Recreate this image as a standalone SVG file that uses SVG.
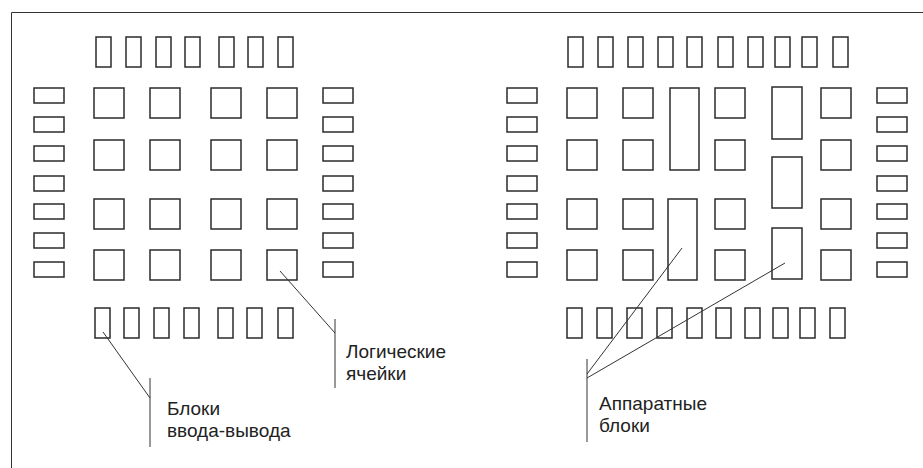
<svg xmlns="http://www.w3.org/2000/svg" width="923" height="468" viewBox="0 0 923 468">
  <style>
    .blk { fill: none; stroke: #2b2b2b; stroke-width: 1.5; }
    .lead { fill: none; stroke: #333; stroke-width: 1; }
    .lbl { font-family: "Liberation Sans", Arial, sans-serif; font-size: 19px; fill: #222; }
  </style>
  <defs>
    <rect id="padV" width="15" height="30" class="blk"/>
    <rect id="padH" width="30" height="15" class="blk"/>
    <rect id="cell" width="30" height="30" class="blk"/>
  </defs>

  <!-- frame edges -->
  <g id="frame">
    <path d="M11.5 468 V12.5 H923" class="lead" stroke-width="1.3"/>
  </g>

  <!-- left chip: I/O blocks -->
  <g id="left-io-top">
    <use href="#padV" x="96" y="37"/><use href="#padV" x="126" y="37"/><use href="#padV" x="156" y="37"/>
    <use href="#padV" x="185" y="37"/><use href="#padV" x="219" y="37"/><use href="#padV" x="248" y="37"/>
    <use href="#padV" x="278" y="37"/>
  </g>
  <g id="left-io-bottom">
    <use href="#padV" x="95" y="308"/><use href="#padV" x="124" y="308"/><use href="#padV" x="154" y="308"/>
    <use href="#padV" x="184" y="308"/><use href="#padV" x="218" y="308"/><use href="#padV" x="247" y="308"/>
    <use href="#padV" x="278" y="308"/>
  </g>
  <g id="left-io-west">
    <use href="#padH" x="34" y="88"/><use href="#padH" x="34" y="117"/><use href="#padH" x="34" y="146"/>
    <use href="#padH" x="34" y="176"/><use href="#padH" x="34" y="204"/><use href="#padH" x="34" y="233"/>
    <use href="#padH" x="34" y="262"/>
  </g>
  <g id="left-io-east">
    <use href="#padH" x="323" y="88"/><use href="#padH" x="323" y="117"/><use href="#padH" x="323" y="146"/>
    <use href="#padH" x="323" y="176"/><use href="#padH" x="323" y="204"/><use href="#padH" x="323" y="233"/>
    <use href="#padH" x="323" y="262"/>
  </g>

  <!-- left chip: logic cells -->
  <g id="left-cells">
    <use href="#cell" x="94" y="88"/><use href="#cell" x="150" y="88"/><use href="#cell" x="211" y="88"/><use href="#cell" x="267" y="88"/>
    <use href="#cell" x="94" y="140"/><use href="#cell" x="150" y="140"/><use href="#cell" x="211" y="140"/><use href="#cell" x="267" y="140"/>
    <use href="#cell" x="94" y="199"/><use href="#cell" x="150" y="199"/><use href="#cell" x="211" y="199"/><use href="#cell" x="267" y="199"/>
    <use href="#cell" x="94" y="250"/><use href="#cell" x="150" y="250"/><use href="#cell" x="211" y="250"/><use href="#cell" x="267" y="250"/>
  </g>

  <!-- right chip: I/O blocks -->
  <g id="right-io-top">
    <use href="#padV" x="568" y="37"/><use href="#padV" x="598" y="37"/><use href="#padV" x="628" y="37"/>
    <use href="#padV" x="658" y="37"/><use href="#padV" x="687" y="37"/><use href="#padV" x="718" y="37"/>
    <use href="#padV" x="748" y="37"/><use href="#padV" x="775" y="37"/><use href="#padV" x="802" y="37"/>
    <use href="#padV" x="833" y="37"/>
  </g>
  <g id="right-io-bottom">
    <use href="#padV" x="567" y="308"/><use href="#padV" x="597" y="308"/><use href="#padV" x="627" y="308"/>
    <use href="#padV" x="657" y="308"/><use href="#padV" x="687" y="308"/><use href="#padV" x="716" y="308"/>
    <use href="#padV" x="745" y="308"/><use href="#padV" x="773" y="308"/><use href="#padV" x="800" y="308"/>
    <use href="#padV" x="830" y="308"/>
  </g>
  <g id="right-io-west">
    <use href="#padH" x="507" y="88"/><use href="#padH" x="507" y="117"/><use href="#padH" x="507" y="146"/>
    <use href="#padH" x="507" y="176"/><use href="#padH" x="507" y="204"/><use href="#padH" x="507" y="233"/>
    <use href="#padH" x="507" y="262"/>
  </g>
  <g id="right-io-east">
    <use href="#padH" x="877" y="88"/><use href="#padH" x="877" y="117"/><use href="#padH" x="877" y="146"/>
    <use href="#padH" x="877" y="176"/><use href="#padH" x="877" y="204"/><use href="#padH" x="877" y="233"/>
    <use href="#padH" x="877" y="262"/>
  </g>

  <!-- right chip: logic cells -->
  <g id="right-cells">
    <use href="#cell" x="567" y="88"/><use href="#cell" x="623" y="88"/><use href="#cell" x="715" y="88"/><use href="#cell" x="821" y="88"/>
    <use href="#cell" x="567" y="140"/><use href="#cell" x="623" y="140"/><use href="#cell" x="715" y="140"/><use href="#cell" x="821" y="140"/>
    <use href="#cell" x="567" y="199"/><use href="#cell" x="623" y="199"/><use href="#cell" x="715" y="199"/><use href="#cell" x="821" y="199"/>
    <use href="#cell" x="567" y="250"/><use href="#cell" x="623" y="250"/><use href="#cell" x="715" y="250"/><use href="#cell" x="821" y="250"/>
  </g>

  <!-- right chip: hard blocks -->
  <g id="hard-blocks">
    <rect id="hb1" x="670" y="88" width="29" height="82" class="blk"/>
    <rect id="hb2" x="668" y="199" width="29" height="81" class="blk"/>
    <rect id="hb3" x="772" y="87" width="30" height="52" class="blk"/>
    <rect id="hb4" x="772" y="157" width="30" height="51" class="blk"/>
    <rect id="hb5" x="772" y="228" width="30" height="51" class="blk"/>
  </g>

  <!-- callout leaders -->
  <g id="connectors">
    <path d="M150 378 V447 M150 398 L103 332" class="lead"/>
    <path d="M335 319 V388 M335 333 L280 271" class="lead"/>
    <path d="M587 359 V442 M587 374 L682 248 M587 378 L785 263" class="lead"/>
  </g>

  <!-- callout labels -->
  <g id="label-io">
    <text class="lbl" x="167" y="415">Блоки</text>
    <text class="lbl" x="167" y="437">ввода-вывода</text>
  </g>
  <g id="label-logic">
    <text class="lbl" x="346" y="358">Логические</text>
    <text class="lbl" x="346" y="380">ячейки</text>
  </g>
  <g id="label-hard">
    <text class="lbl" x="599" y="410">Аппаратные</text>
    <text class="lbl" x="599" y="432">блоки</text>
  </g>
</svg>
